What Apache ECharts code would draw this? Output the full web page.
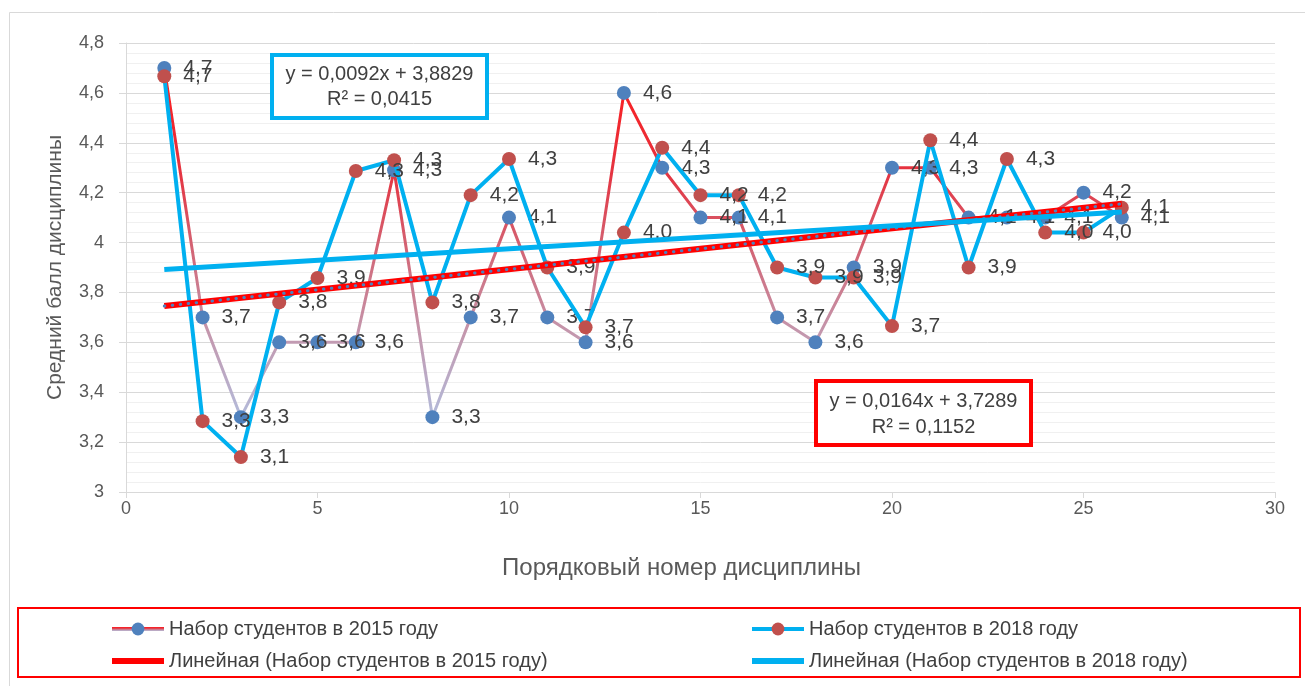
<!DOCTYPE html>
<html>
<head>
<meta charset="utf-8">
<script src="https://cdn.jsdelivr.net/npm/echarts@6/dist/echarts.min.js"></script>
<style>
html,body{margin:0;padding:0;background:#fff;}
#chart{width:1305px;height:686px;}
</style>
</head>
<body>
<div id="chart"></div>
<script>
// ---- data ----
const disciplineNo = [1,2,3,4,5,6,7,8,9,10,11,12,13,14,15,16,17,18,19,20,21,22,23,24,25,26];
const scores2015 = [4.7,3.7,3.3,3.6,3.6,3.6,4.29,3.3,3.7,4.1,3.7,3.6,4.6,4.3,4.1,4.1,3.7,3.6,3.9,4.3,4.3,4.1,4.1,4.1,4.2,4.1];
const scores2018 = [4.667,3.284,3.14,3.76,3.858,4.287,4.33,3.76,4.19,4.335,3.9,3.66,4.04,4.38,4.19,4.19,3.9,3.86,3.86,3.665,4.41,3.9,4.335,4.04,4.04,4.14];
const seriesNames = ['Набор студентов в 2015 году','Набор студентов в 2018 году'];
const trendNames = ['Линейная (Набор студентов в 2015 году)','Линейная (Набор студентов в 2018 году)'];
const trend2015 = [0.0164, 3.7289, 0.1152]; // slope, intercept, R²
const trend2018 = [0.0092, 3.8829, 0.0415];
const yAxisRange = [3, 4.8, 0.2];
const xAxisRange = [0, 30, 5];
const axisTitles = ['Порядковый номер дисциплины','Средний балл дисциплины'];

// ---- helpers ----
const FONT = '"Liberation Sans", "Open Sans", sans-serif';
const comma = (v, d) => String(+(+v).toFixed(d)).replace('.', ',');
const fmt1 = v => (+v).toFixed(1).replace('.', ',');
const pts = arr => disciplineNo.map((x, i) => [x, arr[i]]);
const trendPts = t => {
  const x0 = disciplineNo[0], x1 = disciplineNo[disciplineNo.length - 1];
  return [[x0, t[1] + t[0] * x0], [x1, t[1] + t[0] * x1]];
};
const eqText = t => 'y = ' + t[0].toFixed(4).replace('.', ',') + 'x + ' + t[1].toFixed(4).replace('.', ',') +
  '\nR² = ' + t[2].toFixed(4).replace('.', ',');

const chart = echarts.init(document.getElementById('chart'));

const gradient2015 = new echarts.graphic.LinearGradient(0, 0, 0, 1, [
  {offset: 0, color: '#FF1A1A'},
  {offset: 0.3, color: '#E53340'},
  {offset: 0.5, color: '#D46070'},
  {offset: 0.75, color: '#C496AC'},
  {offset: 1, color: '#B2BCDC'}
]);

const labelStyle = {
  show: true, position: 'right', distance: 12,
  fontFamily: FONT, fontSize: 21, color: '#404040',
  formatter: p => fmt1(p.value[1])
};
const barIcon = 'path://M0,0H52V6H0Z';
const legendText = {fontFamily: FONT, fontSize: 20, color: '#404040'};

chart.setOption({
  animation: false,
  backgroundColor: '#fff',
  textStyle: {fontFamily: FONT},
  grid: {left: 126, right: 30, top: 43, bottom: 194, containLabel: false},
  xAxis: {
    type: 'value', min: xAxisRange[0], max: xAxisRange[1], interval: xAxisRange[2],
    name: axisTitles[0], nameLocation: 'middle', nameGap: 64,
    nameTextStyle: {fontFamily: FONT, fontSize: 24, color: '#595959', padding: [0, 38, 0, 0]},
    axisLine: {show: true, lineStyle: {color: '#D9D9D9', width: 1}},
    axisTick: {show: true, length: 6, lineStyle: {color: '#D9D9D9'}},
    axisLabel: {fontFamily: FONT, fontSize: 18, color: '#595959', margin: 8},
    splitLine: {show: false}
  },
  yAxis: {
    type: 'value', min: yAxisRange[0], max: yAxisRange[1], interval: yAxisRange[2],
    name: axisTitles[1], nameLocation: 'middle', nameGap: 60, nameRotate: 90,
    nameTextStyle: {fontFamily: FONT, fontSize: 21, color: '#595959'},
    axisLine: {show: true, lineStyle: {color: '#D9D9D9', width: 1}},
    axisTick: {show: true, length: 7, lineStyle: {color: '#D9D9D9'}},
    axisLabel: {fontFamily: FONT, fontSize: 18, color: '#595959', margin: 22,
      formatter: v => comma(v, 1)},
    splitLine: {show: true, lineStyle: {color: '#D9D9D9', width: 1}},
    minorTick: {show: false, splitNumber: 5},
    minorSplitLine: {show: true, lineStyle: {color: '#F0F0F0', width: 1}}
  },
  legend: [
    {
      data: [
        {name: seriesNames[0], lineStyle: {width: 4}},
        {name: trendNames[0], icon: barIcon}
      ],
      orient: 'vertical', left: 105, top: 614, itemGap: 12,
      itemWidth: 52, itemHeight: 16,
      textStyle: legendText
    },
    {
      data: [
        {name: seriesNames[1], lineStyle: {width: 4}},
        {name: trendNames[1], icon: barIcon}
      ],
      orient: 'vertical', left: 745, top: 614, itemGap: 12,
      itemWidth: 52, itemHeight: 16,
      textStyle: legendText
    }
  ],
  graphic: [
    {type: 'rect', silent: true, z: -10,
     shape: {x: 9.5, y: 12.5, width: 1320, height: 700},
     style: {fill: null, stroke: '#D9D9D9', lineWidth: 1}},
    {type: 'rect', silent: true,
     shape: {x: 18, y: 608, width: 1282, height: 69},
     style: {fill: null, stroke: '#FF0000', lineWidth: 2}},
    {type: 'rect', silent: true, z: 50,
     shape: {x: 272, y: 55, width: 215, height: 63},
     style: {fill: '#fff', stroke: '#00B0F0', lineWidth: 4}},
    {type: 'text', silent: true, z: 51,
     style: {text: eqText(trend2018), x: 379.5, y: 87, textAlign: 'center', textVerticalAlign: 'middle',
       font: '20px ' + FONT, fill: '#404040', lineHeight: 25}},
    {type: 'rect', silent: true, z: 50,
     shape: {x: 816, y: 381, width: 215, height: 64},
     style: {fill: '#fff', stroke: '#FF0000', lineWidth: 4}},
    {type: 'text', silent: true, z: 51,
     style: {text: eqText(trend2015), x: 923.5, y: 414, textAlign: 'center', textVerticalAlign: 'middle',
       font: '20px ' + FONT, fill: '#404040', lineHeight: 26}}
  ],
  series: [
    {
      name: seriesNames[0], type: 'line', data: pts(scores2015),
      symbol: 'circle', symbolSize: 14, z: 2,
      lineStyle: {color: gradient2015, width: 3},
      itemStyle: {color: '#4F81BD'},
      label: labelStyle
    },
    {
      name: seriesNames[1], type: 'line', data: pts(scores2018),
      symbol: 'circle', symbolSize: 14, z: 3,
      lineStyle: {color: '#00B0F0', width: 4},
      itemStyle: {color: '#C0504D'},
      label: labelStyle
    },
    {
      name: trendNames[0], type: 'line', data: trendPts(trend2015),
      symbol: 'none', z: 4, silent: true,
      lineStyle: {color: '#FF0000', width: 6},
      itemStyle: {color: '#FF0000'}
    },
    {
      name: 'trend2015dots', type: 'line', data: trendPts(trend2015),
      symbol: 'none', z: 5, silent: true,
      lineStyle: {color: '#4F81BD', width: 3, type: [0.5, 7.5], cap: 'round'}
    },
    {
      name: trendNames[1], type: 'line', data: trendPts(trend2018),
      symbol: 'none', z: 6, silent: true,
      lineStyle: {color: '#00B0F0', width: 5},
      itemStyle: {color: '#00B0F0'}
    }
  ]
});
</script>
</body>
</html>
